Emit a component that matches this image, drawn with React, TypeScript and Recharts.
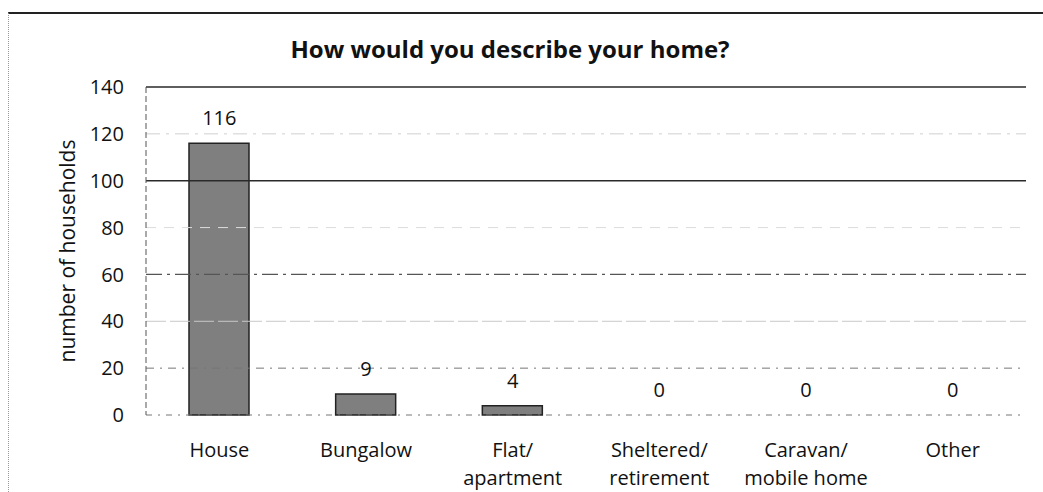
import React from 'react';
import { ComposedChart, Bar, Line, XAxis, YAxis, ReferenceLine, LabelList } from 'recharts';

const categories = ['House', 'Bungalow', 'Flat/\napartment', 'Sheltered/\nretirement', 'Caravan/\nmobile home', 'Other'];
const households = [116, 9, 4, 0, 0, 0];
const yTicks = [0, 20, 40, 60, 80, 100, 120, 140];

const data = categories.map((name, i) => ({ name, value: households[i] }));

const FONT = '"Open Sans", Lato, sans-serif';

// gridline look per tick (the scanned original is uneven)
const gridStyle: Record<number, { stroke: string; dash?: string; width: number }> = {
  140: { stroke: '#2a2a2a', width: 1.5 },
  120: { stroke: '#d0d0d0', dash: '14 6 3 6', width: 1 },
  100: { stroke: '#2a2a2a', width: 1.5 },
  80: { stroke: '#dcdcdc', dash: '10 8', width: 1 },
  60: { stroke: '#555', dash: '16 5 3 5', width: 1.2 },
  40: { stroke: '#c8c8c8', dash: '20 4', width: 1 },
  20: { stroke: '#777', dash: '8 6 2 6', width: 1 },
  0: { stroke: '#777', dash: '6 6 2 6', width: 1 },
};

const CategoryTick = (props: any) => {
  const { x, y, payload } = props;
  const lines = String(payload.value).split('\n');
  return (
    <text x={x} y={y + 40} textAnchor="middle" fill="#111" fontSize={20} fontFamily={FONT}>
      {lines.map((line, i) => (
        <tspan key={i} x={x} dy={i === 0 ? 0 : 28}>
          {line}
        </tspan>
      ))}
    </text>
  );
};

const AxisTitle = (props: any) => {
  const { viewBox } = props;
  const cx = viewBox.x + 67;
  const cy = viewBox.y + viewBox.height / 2;
  return (
    <text
      x={cx}
      y={cy}
      transform={`rotate(-90 ${cx} ${cy})`}
      textAnchor="middle"
      dominantBaseline="central"
      fill="#111"
      fontSize={21}
      fontFamily={FONT}
    >
      number of households
    </text>
  );
};

export default function App() {
  return (
    <div style={{ position: 'absolute', left: 0, top: 0, width: 1043, height: 492, background: '#fff' }}>
      <div
        style={{
          position: 'absolute',
          left: 8,
          top: 12,
          right: 0,
          bottom: 0,
          borderTop: '2px solid #222',
          borderLeft: '1px dotted #999',
        }}
      />
      <div
        style={{
          position: 'absolute',
          left: 0,
          width: 1020,
          top: 32,
          textAlign: 'center',
          fontFamily: FONT,
          fontWeight: 700,
          fontSize: 24,
          color: '#111',
        }}
      >
        How would you describe your home?
      </div>
      <ComposedChart
        width={1043}
        height={492}
        data={data}
        margin={{ top: 87, right: 17, bottom: 47, left: 0 }}
        style={{ position: 'absolute', left: 0, top: 0 }}
      >
        {yTicks.map((t) => (
          <ReferenceLine
            key={t}
            y={t}
            stroke={gridStyle[t].stroke}
            strokeWidth={gridStyle[t].width}
            strokeDasharray={gridStyle[t].dash}
          />
        ))}
        <XAxis
          dataKey="name"
          height={30}
          axisLine={false}
          tickLine={false}
          tickSize={0}
          interval={0}
          tick={<CategoryTick />}
        />
        <YAxis
          width={146}
          domain={[0, 140]}
          ticks={yTicks}
          interval={0}
          axisLine={{ stroke: '#555', strokeDasharray: '6 3' }}
          tickLine={false}
          tickSize={0}
          tickMargin={22}
          tick={{ fill: '#111', fontSize: 20, fontFamily: FONT }}
          label={<AxisTitle />}
        />
        <Bar dataKey="value" barSize={60} fill="#7f7f7f" stroke="#222" strokeWidth={1.5} isAnimationActive={false} />
        {/* value labels ride on an invisible line so zero-height bars still get one */}
        <Line dataKey="value" stroke="none" dot={false} activeDot={false} legendType="none" isAnimationActive={false}>
          <LabelList dataKey="value" position="top" offset={18} fill="#111" fontSize={20} fontFamily={FONT} />
        </Line>
      </ComposedChart>
    </div>
  );
}
